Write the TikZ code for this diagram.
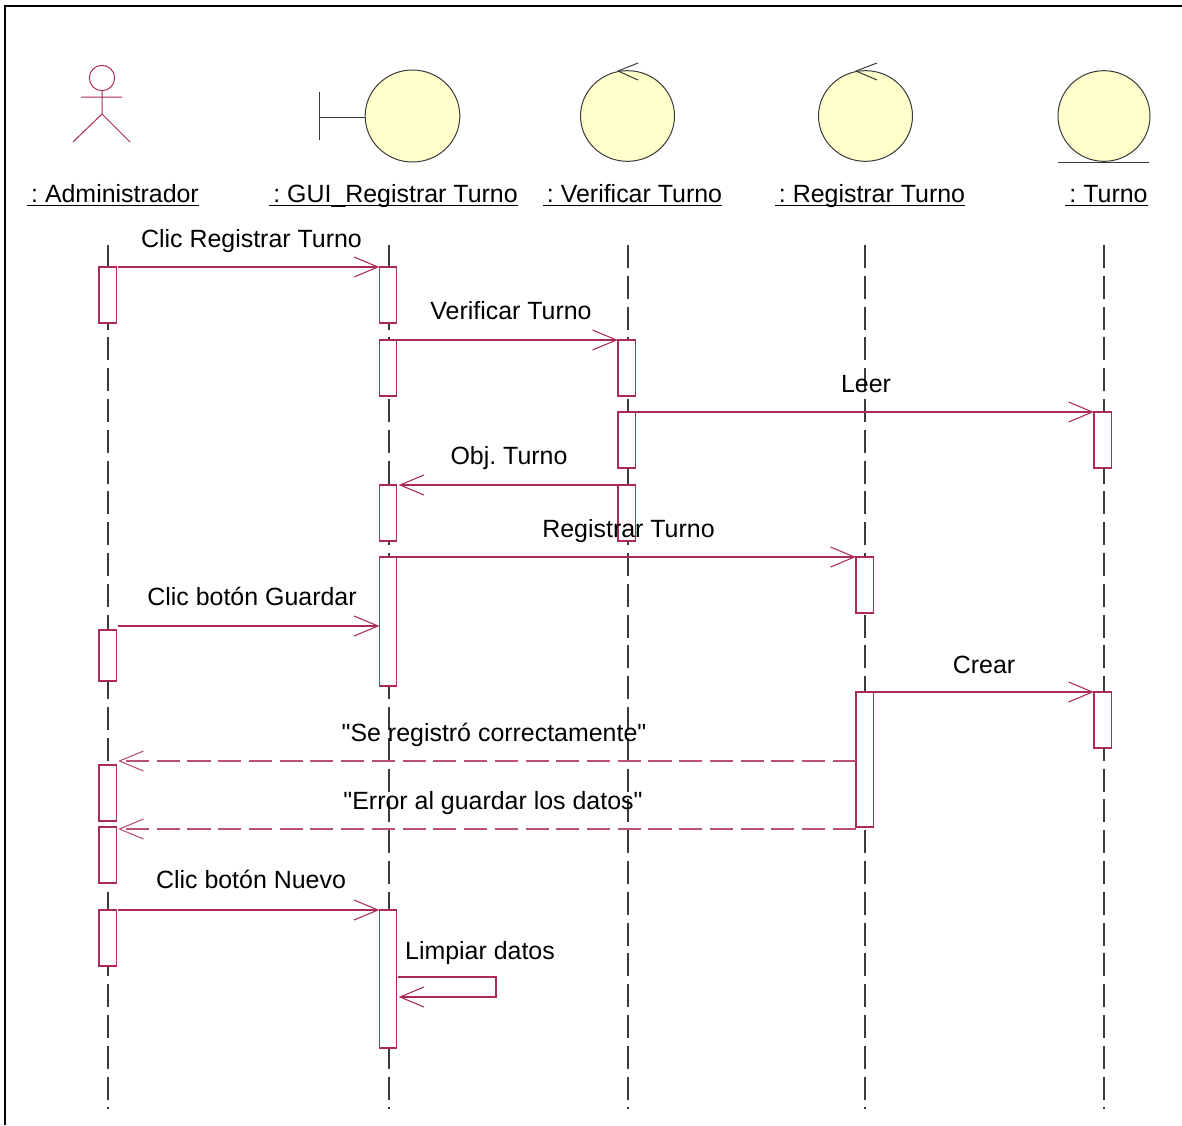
\documentclass[tikz,border=0pt]{standalone}
\usepackage{fontspec}
\setmainfont{Liberation Sans}
\newfontfamily\rawfont{Liberation Sans}
\usetikzlibrary{arrows.meta,shapes.geometric}
\definecolor{rose}{HTML}{AC2A5A}
\definecolor{rosedash}{HTML}{BA5078}
\definecolor{ball}{HTML}{FFFFCB}
\definecolor{ink}{HTML}{3A3A3A}
\tikzset{
  x=0.75pt,y=-0.75pt,
  act/.style={draw=rose,fill=white,line width=0.9pt,minimum width=12.9pt,inner sep=0pt,outer sep=0pt},
  msg/.style={draw=rose,line width=0.9pt,-{Straight Barb[length=18pt,width=15pt,line width=0.8pt]}},
  ret/.style={msg,draw=rosedash,dash pattern=on 17.3pt off 5.75pt},
  life/.style={draw=ink,line width=0.8pt,dash pattern=on 17.3pt off 5.8pt},
  ballst/.style={draw=ink,fill=ball,line width=0.75pt,ellipse,inner sep=0pt},
  sym/.style={draw=ink,line width=0.75pt},
  actor/.style={draw=rose,line width=0.75pt},
  lbl/.style={font=\fontsize{18.7pt}{22pt}\selectfont\frenchspacing,text=black,inner sep=0pt,anchor=base},
}
% activation: name, x, top, bottom
\newcommand{\actbox}[4]{\node[act,minimum height={(#4-#3)*0.75pt}] (#1) at (#2,{(#3+#4)/2}) {};}
% object name with its underline
\newsavebox{\objbox}
\newcommand{\objtext}[1]{\sbox{\objbox}{\hspace{3pt}: #1}\rlap{\rule[-3pt]{\wd\objbox}{0.75pt}}\usebox{\objbox}}
\begin{document}
\begin{tikzpicture}
\useasboundingbox (0,0) rectangle (1182,1125);
\fill[white] (0,0) rectangle (1182,1125);
\draw[black,line width=2pt] (5,1125) -- (5,6) -- (1182,6);
% actor
\node[draw=rose,circle,line width=0.75pt,minimum size=19pt,inner sep=0pt] (head) at (102,78) {};
\coordinate (hip) at (102,114);
\coordinate (armL) at (81,97);
\coordinate (armR) at (122,97);
\coordinate (footL) at (73,142);
\coordinate (footR) at (130,142);
\draw[actor] (head.south) -- (hip) (armL) -- (armR) (footL) -- (hip) -- (footR);
% boundary
\node[ballst,minimum width=71pt,minimum height=69pt] (gui) at (412.5,116) {};
\coordinate (barT) at (319,92);
\coordinate (barB) at (319,140);
\coordinate (barM) at (319,117);
\draw[sym] (barT) -- (barB) (barM) -- (gui.west |- barM);
% controls
\node[ballst,minimum width=70.5pt,minimum height=68pt] (ver) at (627.5,116) {};
\node[ballst,minimum width=70.5pt,minimum height=68pt] (reg) at (865.5,116) {};
\coordinate (v1) at (638,63);
\coordinate (v2) at (638,80);
\coordinate (r1) at (877,63);
\coordinate (r2) at (877,80);
\coordinate (vt) at (618,71);
\coordinate (rt) at (856,71);
\draw[sym] (v1) -- (vt) -- (v2) (r1) -- (rt) -- (r2);
% entity
\node[ballst,minimum width=69pt,minimum height=68pt] (ent) at (1104,116) {};
\coordinate (eL) at (1058,162);
\coordinate (eR) at (1149,162);
\draw[sym] (eL) -- (eR);
% names
\node[lbl] (nA) at (113,202) {\objtext{Administrador}};
\node[lbl] (nG) at (393.5,202) {\objtext{GUI\_Registrar Turno}};
\node[lbl] (nV) at (632.5,202) {\objtext{Verificar Turno}};
\node[lbl] (nR) at (870,202) {\objtext{Registrar Turno}};
\node[lbl] (nT) at (1106.5,202) {\objtext{Turno}};
% lifelines
\foreach \n/\x in {lA/108,lG/389,lV/628,lR/865,lT/1104}{
  \coordinate (\n t) at (\x,245);
  \coordinate (\n b) at (\x,1109);
  \draw[life] (\n t) -- (\n b);
}
% activations
\actbox{a1}{107.5}{267}{323}
\actbox{a2}{107.5}{630}{681}
\actbox{a3}{107.5}{765}{821}
\actbox{a4}{107.5}{827}{883}
\actbox{a5}{107.5}{910}{966}
\actbox{g1}{388}{267}{323}
\actbox{g2}{388}{340}{396}
\actbox{g3}{388}{485}{541}
\actbox{g4}{388}{557}{686}
\actbox{g5}{388}{910}{1048}
\actbox{v1b}{626.5}{340}{396}
\actbox{v2b}{626.5}{412}{468}
\actbox{v3b}{626.5}{485}{541}
\actbox{r1b}{864.5}{557}{613}
\actbox{r2b}{864.5}{692}{827}
\actbox{t1}{1102.5}{412}{468}
\actbox{t2}{1102.5}{692}{748}
% row heights
\coordinate (y1) at (0,626);
\coordinate (y2) at (0,761);
\coordinate (y3) at (0,829);
\coordinate (y4) at (0,977);
\coordinate (y5) at (0,997);
\coordinate (s1) at (496,977);
\coordinate (s2) at (496,997);
% messages
\draw[msg,shorten <=1.5pt] (a1.north east) -- (g1.north west);
\draw[msg] (g2.north east) -- (v1b.north west);
\draw[msg] (v2b.north east) -- (t1.north west);
\draw[msg,shorten >=1.5pt] (v3b.north west) -- (g3.north east);
\draw[msg] (g4.north east) -- (r1b.north west);
\draw[msg,shorten <=1.5pt] (a2.east |- y1) -- (g4.west |- y1);
\draw[msg] (r2b.north east) -- (t2.north west);
\draw[ret,shorten >=1.5pt] (r2b.west |- y2) -- (a3.east |- y2);
\draw[ret,shorten >=1.5pt] (r2b.west |- y3) -- (a4.east |- y3);
\draw[msg,shorten <=1.5pt] (a5.north east) -- (g5.north west);
\draw[msg,shorten >=1.5pt,shorten <=0.75pt] (g5.east |- y4) -- (s1) -- (s2) -- (g5.east |- y5);
% labels
\node[lbl] (m1) at (251.5,247) {Clic Registrar Turno};
\node[lbl] (m2) at (511,319) {Verificar Turno};
\node[lbl] (m3) at (866,392) {Leer};
\node[lbl] (m4) at (509,464) {Obj. Turno};
\node[lbl] (m5) at (628.5,537) {Registrar Turno};
\node[lbl] (m6) at (252,605) {Clic botón Guardar};
\node[lbl] (m7) at (984,673) {Crear};
\node[lbl] (m8) at (494,741) {\rawfont "Se registró correctamente"};
\node[lbl] (m9) at (493,809) {\rawfont "Error al guardar los datos"};
\node[lbl] (m10) at (251,888) {Clic botón Nuevo};
\node[lbl] (m11) at (480,959) {Limpiar datos};
\end{tikzpicture}
\end{document}
